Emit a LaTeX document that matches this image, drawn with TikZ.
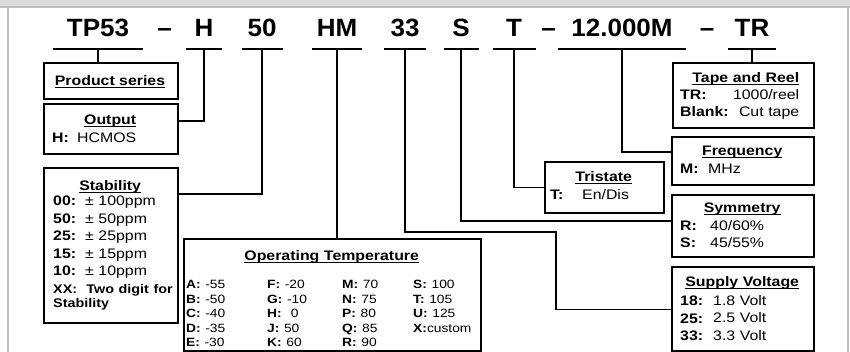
\documentclass[tikz,border=0pt]{standalone}
\usepackage{fontspec}
\setmainfont{Liberation Sans}[FakeStretch=1.15]
\newfontfamily\codefont{Liberation Sans}[FakeStretch=1.04]
\usetikzlibrary{calc}
\definecolor{rimgray}{HTML}{BEBEBE}
\definecolor{bandgray}{HTML}{DCDCDC}
\newcommand\hdr[1]{\setbox0\hbox{\textbf{#1}}\rlap{\rule[-1.8pt]{\wd0}{1.2pt}}\box0}
\newcommand\kv[3]{\makebox[#1pt][l]{\textbf{#2}}#3}
\tikzset{
  code/.style={font=\codefont\bfseries\fontsize{25}{30}\selectfont,anchor=base,inner sep=0pt,outer sep=0pt,text depth=12pt},
  uln/.style={line width=1.8pt},
  box/.style={draw,line width=2.2pt,anchor=north west,inner sep=0pt},
  txt/.style={anchor=base west,inner sep=0pt,align=left,font=\fontsize{13.8}{17.5}\selectfont},
  link/.style={line width=1.2pt},
  rim/.style={draw=rimgray,line width=1.7pt},
}
\begin{document}
\begin{tikzpicture}[x=1pt,y=-1pt]
  \useasboundingbox (0,0) rectangle (850,352);
  % frame
  \fill[bandgray] (0,0) rectangle (850,7);
  \draw[rim] (0,7) -- (850,7);
  \draw[rim] (8.2,7) -- (8.2,352);
  \draw[rim] (848,7) -- (848,352);

  % part number
  \foreach \n/\x/\w/\t in {cSer/98/90/TP53, cOut/204/36/H, cStab/262/41/50, cTemp/337/50/HM, cVolt/405/42/33,
                           cSym/461/35/S, cTri/514/43/T, cFreq/622/128/12.000M, cPack/752/48/TR} {
    \node[code,minimum width=\w] (\n) at (\x,37) {\t};
    \draw[uln] (\n.south west) -- (\n.south east);
  }
  \foreach \x [count=\i] in {164.5,548.5,707} \node[code] (dash\i) at (\x,37) {–};

  % boxes
  \node[box,minimum width=134,minimum height=36] (ser) at (43,62) {};
  \node[box,minimum width=134,minimum height=50] (outp) at (43,103) {};
  \node[box,minimum width=134,minimum height=155] (stab) at (43,167) {};
  \node[box,minimum width=297,minimum height=112] (temp) at (183,238) {};
  \node[box,minimum width=142,minimum height=84] (volt) at (671,266) {};
  \node[box,minimum width=142,minimum height=62] (sym) at (671,194) {};
  \node[box,minimum width=119,minimum height=51] (tri) at (544,161) {};
  \node[box,minimum width=142,minimum height=48] (freq) at (671,136) {};
  \node[box,minimum width=141,minimum height=65] (pack) at (672,62) {};

  \node[txt,anchor=base] (serT) at (110,86) {\hdr{Product series}};
  \node[txt,text width=116pt] (outpT) at (52,125) {\makebox[\linewidth]{\hdr{Output}}\\ \kv{25}{H:}{HCMOS}};
  \node[txt,text width=114pt] (stabT) at (53,191) {\makebox[\linewidth]{\hdr{Stability}}\\[-2.5pt]
    \kv{32}{00:}{± 100ppm}\\ \kv{32}{50:}{± 50ppm}\\ \kv{32}{25:}{± 25ppm}\\
    \kv{32}{15:}{± 15ppm}\\ \kv{32}{10:}{± 10ppm}\\
    \mbox{\fontsize{12.5}{14}\selectfont\bfseries XX:\ \ Two digit for}\\[-3.5pt]
    \mbox{\fontsize{12.5}{14}\selectfont\bfseries Stability}};
  \node[txt,text width=291pt] (tempT) at (186,261) {\makebox[\linewidth]{\hdr{Operating Temperature}}\\[10.5pt]
    {\fontsize{12}{14.4}\selectfont\begin{tabular}[t]{@{}p{81pt}@{}p{75pt}@{}p{71pt}@{}l@{}}
      \textbf{A:} -55 & \textbf{F:} -20 & \textbf{M:} 70 & \textbf{S:} 100\\
      \textbf{B:} -50 & \textbf{G:} -10 & \textbf{N:} 75 & \textbf{T:} 105\\
      \textbf{C:} -40 & \textbf{H:}\ \ 0 & \textbf{P:} 80 & \textbf{U:} 125\\
      \textbf{D:} -35 & \textbf{J:} 50 & \textbf{Q:} 85 & \textbf{X:}custom\\
      \textbf{E:} -30 & \textbf{K:} 60 & \textbf{R:} 90 &
    \end{tabular}}};
  \node[txt,text width=124pt] (voltT) at (680,287) {\makebox[\linewidth]{\hdr{Supply Voltage}}\\[1.5pt]
    \kv{33}{18:}{1.8 Volt}\\[-0.5pt] \kv{33}{25:}{2.5 Volt}\\[-0.5pt] \kv{33}{33:}{3.3 Volt}};
  \node[txt,text width=124pt] (symT) at (680,213) {\makebox[\linewidth]{\hdr{Symmetry}}\\
    \kv{30}{R:}{40/60\%}\\ \kv{30}{S:}{45/55\%}};
  \node[txt,text width=107pt] (triT) at (550,182) {\makebox[\linewidth]{\hdr{Tristate}}\\ \kv{32}{T:}{En/Dis}};
  \node[txt,text width=124pt] (freqT) at (680,156) {\makebox[\linewidth]{\hdr{Frequency}}\\ \kv{28}{M:}{MHz}};
  \node[txt,text width=119pt] (packT) at (680,83) {\makebox[\linewidth][r]{\hdr{Tape and Reel}}\\[-0.5pt]
    \textbf{TR:}\hfill 1000/reel\\[-0.5pt] \textbf{Blank:}\hfill Cut tape};

  % connectors
  \coordinate (bend) at (556,232);
  \draw[link] (cSer.south) -- (cSer.south |- ser.north);
  \draw[link] (cOut.south) |- ([yshift=8pt]outp.east);
  \draw[link] (cStab.south) |- ([yshift=51.5pt]stab.east);
  \draw[link] (cTemp.south) -- (cTemp.south |- temp.north);
  \draw[link] (cVolt.south) |- (bend) |- (volt.west);
  \draw[link] (cSym.south) |- ([yshift=5pt]sym.west);
  \draw[link] (cTri.south) |- (tri.west);
  \draw[link] (cFreq.south) |- ([yshift=9pt]freq.west);
  \draw[link] (cPack.south) -- (cPack.south |- pack.north);
\end{tikzpicture}
\end{document}
